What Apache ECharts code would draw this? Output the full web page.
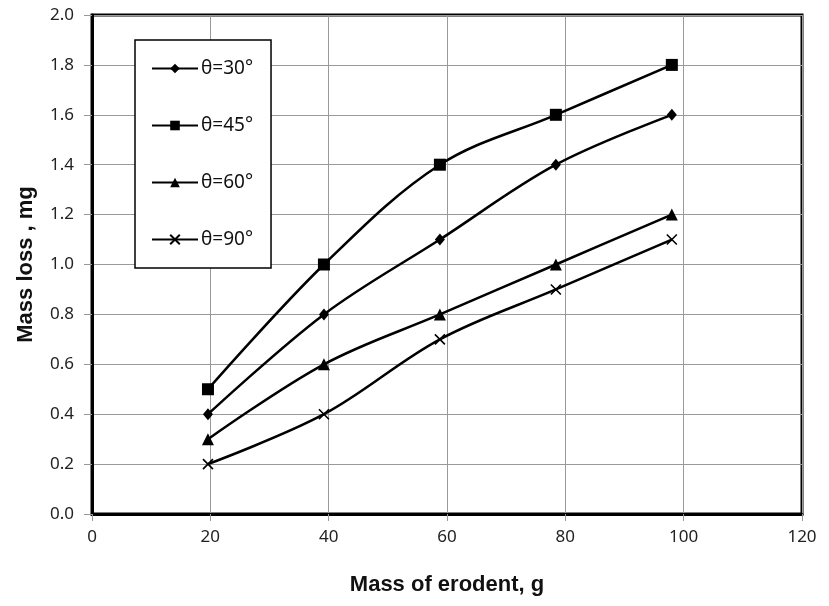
<!DOCTYPE html>
<html>
<head>
<meta charset="utf-8">
<script src="https://cdn.jsdelivr.net/npm/echarts@6/dist/echarts.min.js"></script>
<style>
html,body{margin:0;padding:0;background:#fff;}
#chart{width:829px;height:606px;}
</style>
</head>
<body>
<div id="chart"></div>
<script>
const xValues = [19.6, 39.2, 58.8, 78.4, 98];
const theta30 = [0.4, 0.8, 1.1, 1.4, 1.6];
const theta45 = [0.5, 1.0, 1.4, 1.6, 1.8];
const theta60 = [0.3, 0.6, 0.8, 1.0, 1.2];
const theta90 = [0.2, 0.4, 0.7, 0.9, 1.1];
const seriesNames = ['θ=30°', 'θ=45°', 'θ=60°', 'θ=90°'];
const xTitle = 'Mass of erodent, g';
const yTitle = 'Mass loss , mg';

const pair = arr => xValues.map((x, i) => [x, arr[i]]);
const xMark = 'path://M0,0L10,10M10,0L0,10';
const defs = [
  {data: theta30, symbol: 'diamond', size: [10, 12]},
  {data: theta45, symbol: 'rect', size: 12},
  {data: theta60, symbol: 'triangle', size: 12},
  {data: theta90, symbol: xMark, size: 10}
];

const tickFont = {fontFamily: 'Noto Sans', fontSize: 17, color: '#222'};

const chart = echarts.init(document.getElementById('chart'), null, {renderer: 'canvas'});
chart.setOption({
  animation: false,
  backgroundColor: '#fff',
  grid: {left: 92, right: 27, top: 15, bottom: 92, show: true, borderColor: '#000', borderWidth: 3, backgroundColor: 'transparent'},
  xAxis: {
    type: 'value', min: 0, max: 120, interval: 20,
    name: xTitle, nameLocation: 'middle', nameGap: 60,
    nameTextStyle: {fontFamily: 'Liberation Sans', fontWeight: 'bold', fontSize: 22, color: '#111'},
    axisLine: {show: true, lineStyle: {color: '#000', width: 3}},
    axisTick: {show: true, length: 7, lineStyle: {color: '#999', width: 1}},
    axisLabel: Object.assign({margin: 15}, tickFont),
    splitLine: {show: true, lineStyle: {color: '#9a9a9a', width: 1}}
  },
  yAxis: {
    type: 'value', min: 0, max: 2.0, interval: 0.2,
    name: yTitle, nameLocation: 'middle', nameGap: 55,
    nameTextStyle: {fontFamily: 'Liberation Sans', fontWeight: 'bold', fontSize: 22, color: '#111'},
    axisLine: {show: true, lineStyle: {color: '#000', width: 3}},
    axisTick: {show: true, length: 8, lineStyle: {color: '#999', width: 1}},
    axisLabel: Object.assign({margin: 18, formatter: v => v.toFixed(1)}, tickFont),
    splitLine: {show: true, lineStyle: {color: '#9a9a9a', width: 1}}
  },
  legend: {
    show: true, orient: 'vertical', left: 135, top: 40,
    padding: [19, 18, 19, 16], itemGap: 38,
    itemWidth: 46, itemHeight: 12,
    backgroundColor: '#fff', borderColor: '#000', borderWidth: 1.5,
    textStyle: {fontFamily: 'Noto Sans', fontSize: 19, color: '#111', padding: [0, 0, 0, -2]},
    data: seriesNames
  },
  series: defs.map((d, i) => ({
    name: seriesNames[i], type: 'line', data: pair(d.data),
    smooth: 0.35, symbol: d.symbol, symbolSize: d.size, showSymbol: true,
    lineStyle: {color: '#000', width: 2.5},
    itemStyle: {color: '#000', borderColor: '#000', borderWidth: d.symbol === xMark ? 1.6 : 0},
    z: 3
  }))
});
</script>
</body>
</html>
